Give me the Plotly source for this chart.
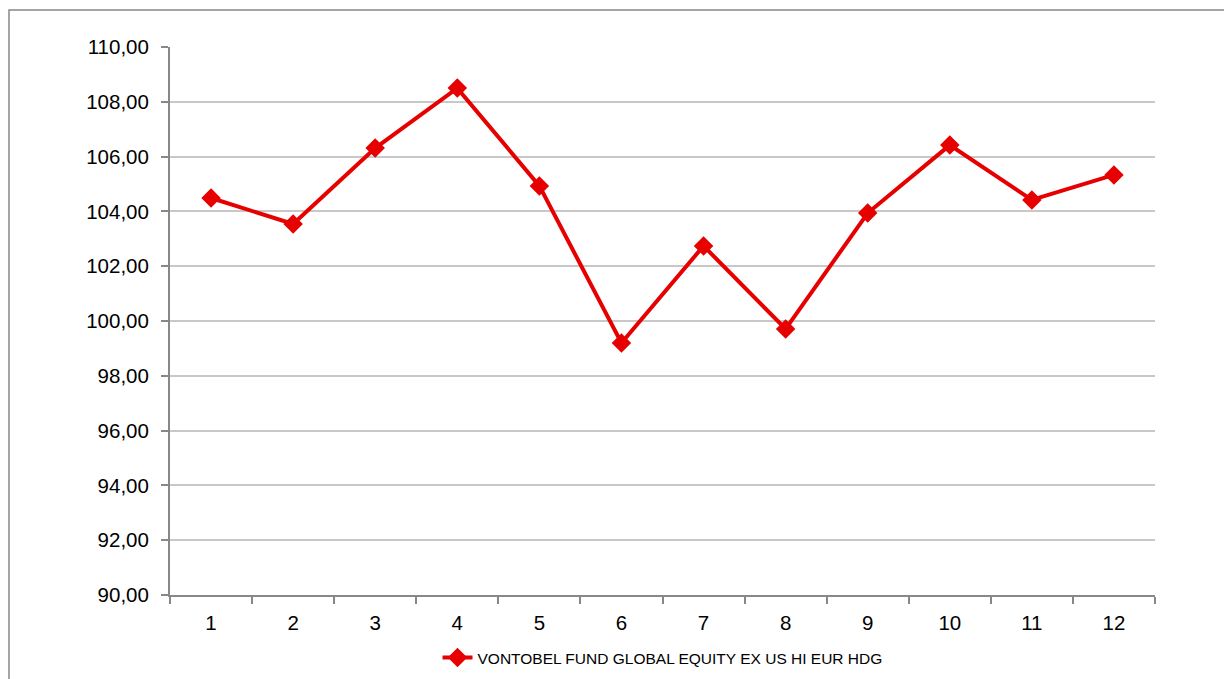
import plotly.graph_objects as go

months = ["1", "2", "3", "4", "5", "6", "7", "8", "9", "10", "11", "12"]
values = [104.49, 103.54, 106.31, 108.50, 104.93, 99.20, 102.74, 99.71, 103.94, 106.42, 104.42, 105.33]
series_name = "VONTOBEL FUND GLOBAL EQUITY EX US HI EUR HDG"

W, H = 1224, 679
L, R, T, B = 170, 69, 47, 84
pw, ph = W - L - R, H - T - B

fig = go.Figure()
fig.add_trace(go.Scatter(
    x=months, y=values, mode="lines+markers", name=series_name,
    line=dict(color="#E60000", width=4),
    marker=dict(symbol="diamond", size=15, color="#E60000"),
))

fig.update_layout(
    width=W, height=H,
    margin=dict(l=L, r=R, t=T, b=B, autoexpand=False),
    paper_bgcolor="white", plot_bgcolor="white",
    separators=", ",
    font=dict(family="Liberation Sans, Arial, sans-serif", color="#000000", size=20.5),
    showlegend=True,
    legend=dict(orientation="h", x=0.5, xanchor="center", y=-(658 - 595) / ph, yanchor="middle",
                font=dict(size=15.5), bgcolor="rgba(0,0,0,0)"),
    xaxis=dict(type="category", range=[-0.5, len(months) - 0.5], tickson="boundaries",
               ticks="outside", ticklen=7,
               tickcolor="#888888", tickwidth=2, showline=True, linecolor="#888888", linewidth=2,
               showgrid=False, ticklabelstandoff=8),
    yaxis=dict(range=[90, 110], dtick=2, tickformat=".2f", ticks="outside", ticklen=7,
               tickcolor="#888888", tickwidth=2, showline=True, linecolor="#888888", linewidth=2,
               showgrid=True, gridcolor="#C8C8C8", gridwidth=2, zeroline=False,
               ticklabelstandoff=8),
    shapes=[dict(type="rect", xref="paper", yref="paper",
                 x0=-(L - 9) / pw, x1=1 + (R + 20) / pw,
                 y0=-(B + 20) / ph, y1=1 + (T - 10) / ph,
                 line=dict(color="#888888", width=1.5), fillcolor="rgba(0,0,0,0)", layer="below")],
)

fig.write_html("out.html", config={"displayModeBar": False},
               post_script="document.body.style.margin='0';")
